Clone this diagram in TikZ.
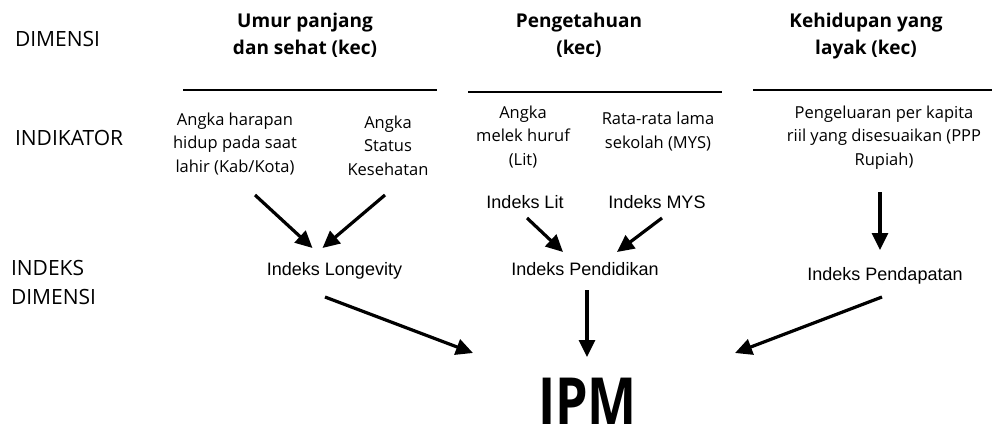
\documentclass[tikz,border=0pt]{standalone}
\usepackage{fontspec}
\setmainfont{Open Sans}
\newfontfamily\idxfont{Liberation Sans}
\usetikzlibrary{arrows.meta}

\begin{document}
\begin{tikzpicture}[x=1pt,y=-1pt,
  every node/.style={inner sep=0pt,outer sep=0pt},
  rowlabel/.style={anchor=base west,align=left,font=\fontsize{21}{29}\selectfont},
  heading/.style={anchor=base,align=center,font=\bfseries\fontsize{19}{27}\selectfont},
  indicator/.style={anchor=base,align=center,font=\fontsize{16.5}{23.5}\selectfont},
  indexlabel/.style={anchor=base,font=\idxfont\fontsize{18}{22}\selectfont},
  rule/.style={line width=1.8pt},
  flow/.style={line width=3.2pt,-{Triangle[length=17pt,width=16pt]}}]

\useasboundingbox (0,0) rectangle (992,425);

% row labels (base = baseline of the last line)
\node[rowlabel] (rdim) at (15,47) {DIMENSI};
\node[rowlabel] (rind) at (15,145) {INDIKATOR};
\node[rowlabel] (ridx) at (11,304) {INDEKS\\DIMENSI};

% dimension headings
\node[heading] (h1) at (305,55) {Umur panjang\\dan sehat (kec)};
\node[heading] (h2) at (579,55) {Pengetahuan\\(kec)};
\node[heading] (h3) at (866,55) {Kehidupan yang\\layak (kec)};

% rules under the headings
\draw[rule] (183,90) -- (437,90);
\draw[rule] (468,92) -- (722,92);
\draw[rule] (753,90) -- (992,90);

% indicators
\node[indicator] (ahh) at (235,172) {Angka harapan\\hidup pada saat\\lahir (Kab/Kota)};
\node[indicator] (ask) at (388,175) {Angka\\Status\\Kesehatan};
\node[indicator] (alit) at (523,165) {Angka\\melek huruf\\(Lit)};
\node[indicator] (mys) at (658,148) {Rata-rata lama\\sekolah (MYS)};
\node[indicator] (ppk) at (884,165) {Pengeluaran per kapita\\riil yang disesuaikan (PPP\\Rupiah)};

% indices
\node[indexlabel] (ilit) at (525,208) {Indeks Lit};
\node[indexlabel] (imys) at (657,208) {Indeks MYS};
\node[indexlabel] (lon) at (334.5,275) {Indeks Longevity};
\node[indexlabel] (pend) at (585,275) {Indeks Pendidikan};
\node[indexlabel] (pdp) at (885,280) {Indeks Pendapatan};

% composite index
\node[anchor=base] (ipm) at (587.5,424)
  {\scalebox{0.8}[1]{\bfseries\fontsize{65}{70}\selectfont IPM}};

% flows
\draw[flow] ([shift={(20,23)}]ahh.base) -- ([shift={(-22,-27)}]lon.base);
\draw[flow] ([shift={(-3,20)}]ask.base) -- ([shift={(-12,-27)}]lon.base);
\draw[flow] ([shift={(2,10)}]ilit.base) -- ([shift={(-22,-23)}]pend.base);
\draw[flow] ([shift={(5,10)}]imys.base) -- ([shift={(32,-23)}]pend.base);
\draw[flow] ([shift={(-4,27)}]ppk.base) -- ([shift={(-5,-30)}]pdp.base);
\draw[flow] ([shift={(-9.5,22)}]lon.base) -- ([shift={(-114.5,-71)}]ipm.base);
\draw[flow] ([shift={(2,15)}]pend.base) -- ([shift={(-0.5,-67)}]ipm.base);
\draw[flow] ([shift={(-3,17)}]pdp.base) -- ([shift={(147.5,-71)}]ipm.base);
\end{tikzpicture}
\end{document}
